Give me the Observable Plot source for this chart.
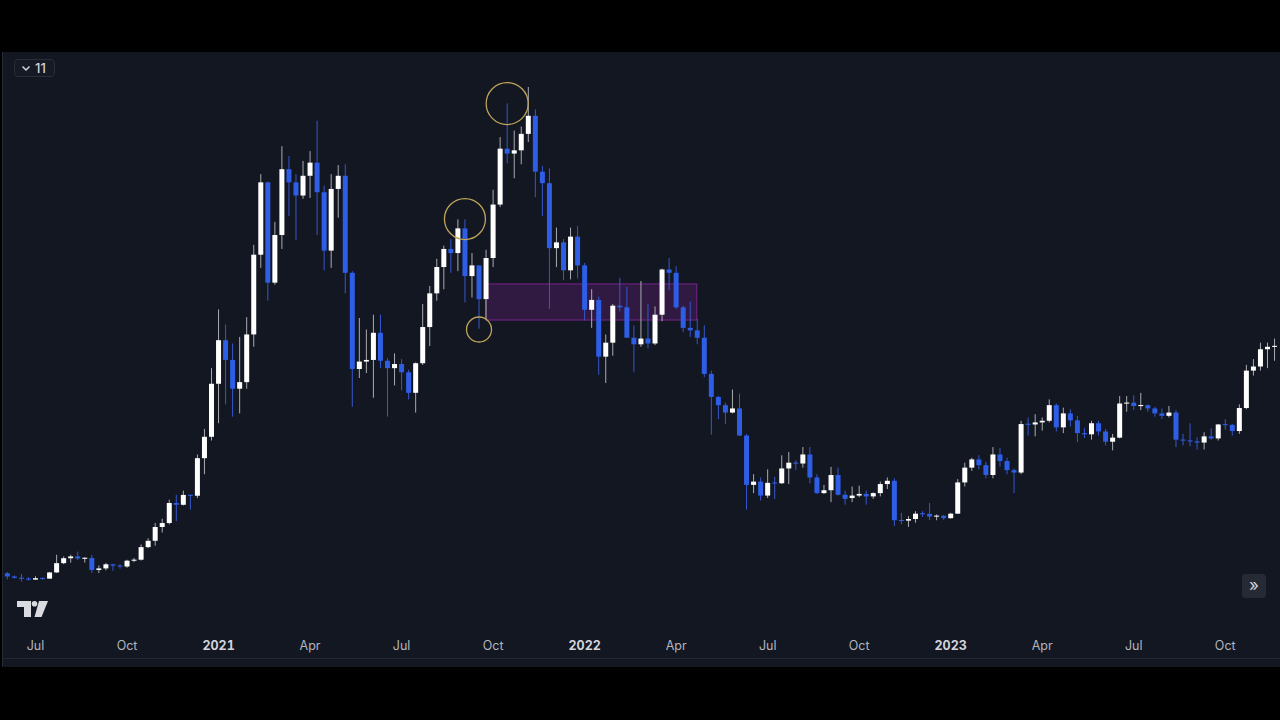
<!DOCTYPE html>
<html>
<head>
<meta charset="utf-8">
<script src="https://cdn.jsdelivr.net/npm/d3@7"></script>
<script src="https://cdn.jsdelivr.net/npm/@observablehq/plot@0.6"></script>
<style>
  html, body { margin:0; padding:0; background:#000; width:1280px; height:720px; overflow:hidden;
    font-family: Inter, "Open Sans", "DejaVu Sans", sans-serif; }
  #panel { position:absolute; left:2px; top:52px; width:1278px; height:615px; background:#131722; border-left:1px solid #262a35; box-sizing:border-box; }
  #sep { position:absolute; left:3px; top:658px; width:1277px; height:1px; background:#222631; }
  #chart { position:absolute; left:0; top:52px; }
  #btn11 { position:absolute; left:14px; top:59px; width:41px; height:18px; border:1px solid #2a2e39; border-radius:4px;
    background:#161a25; color:#d1d4dc; font-size:13px; line-height:18px; box-sizing:border-box; }
  #btn11 svg { position:absolute; left:6px; top:5px; }
  #btn11 span { position:absolute; left:20px; top:-1px; font-weight:500; }
  #logo { position:absolute; left:16px; top:600px; }
  #goend { position:absolute; left:1242px; top:574px; width:24px; height:24px; border-radius:4px; background:#262a35;
    color:#d1d4dc; font-size:17px; line-height:22px; text-align:center; }
</style>
</head>
<body>
<div id="panel"></div>
<div id="sep"></div>
<div id="chart"></div>
<div id="btn11"><svg width="10" height="7" viewBox="0 0 10 7"><path d="M1.5 1.5 L5 5 L8.5 1.5" stroke="#d1d4dc" stroke-width="1.5" fill="none"/></svg><span>11</span></div>
<svg id="logo" width="34" height="18" viewBox="0 0 34 18">
  <path d="M1 1 H15 V17 H8 V7 H1 Z" fill="#d9dbe0"/>
  <circle cx="18.5" cy="3.8" r="2.8" fill="#d9dbe0"/>
  <path d="M23 1 H32 L25.5 17 H18.5 Z" fill="#d9dbe0"/>
</svg>
<div id="goend">»</div>
<script>
// Weekly BTC candles, first candle week of 2020-06-08
const firstWeek = "2020-06-08";
const open = [9850,9460,9300,9200,9080,9250,9200,9950,11080,11680,11900,11650,11700,10250,10440,10940,10775,10670,11380,11500,
  13030,13800,15480,15960,18400,18180,19380,19280,23850,26450,32900,38200,35800,32300,33100,38900,48600,57400,45200,51000,
  59000,57400,55800,58200,59800,56200,49100,56600,58200,46400,34700,35600,35800,39100,35700,34800,35300,34300,31800,35400,
  39800,43900,47100,49300,48800,51800,46000,47300,43200,48200,54700,61500,60900,61300,63300,65500,58700,57300,49400,50100,
  46700,50800,47300,41900,43100,36200,37900,42400,42200,38500,37700,38400,37800,41300,46800,46400,42200,39700,39400,38500,
  34100,31300,30300,29400,29900,26600,20600,21000,19300,20850,20800,22600,23300,23200,24300,21500,19600,19950,21800,19400,
  19000,19300,19500,19200,19600,20700,21100,16300,16250,16450,17100,17080,16750,16850,16550,17100,20900,22700,23700,23000,
  21800,24300,23500,22400,22100,28000,27950,28200,28400,30300,27600,29300,28450,26900,26750,28100,27100,25850,26350,30500,
  30600,30200,30300,29900,29300,29000,29400,26100,26000,25900,25750,26500,26250,27950,27900,27150,29950,34500,35000,37100,37400];
const high = [9990,9590,9780,9370,9480,9310,9990,12100,11900,12100,12480,11800,12090,10800,11100,10990,10950,11490,11720,13350,
  14100,15960,16480,18800,19400,19900,19420,24300,27400,34800,41950,40100,37800,38600,41000,49800,58400,57500,52600,61800,
  60600,58400,60000,61200,64900,57000,58400,59500,59600,46600,40900,39500,41300,41300,36000,36600,35900,34600,35500,42600,
  44800,48100,49700,50500,52900,52900,48800,47300,49200,56500,62900,67000,63700,64200,69000,66300,59400,59100,51900,50500,
  51900,52100,47600,44400,43500,38900,42600,45800,44700,40000,45400,42600,42300,46900,48200,47200,42400,42900,40800,40000,
  34500,31400,30600,32200,31700,26800,21900,21500,22500,21600,24200,24600,23600,25200,25200,21900,20600,22800,22700,19900,
  20400,20500,19900,19700,21000,21500,21400,17200,16800,17400,17400,18400,17000,16950,17200,21300,23300,23900,24200,23400,
  25200,25100,23900,22600,28400,28800,29200,28800,31000,30500,30000,29800,29000,27500,28400,28400,27400,26800,31400,31400,
  31500,31800,30400,30100,29900,30200,29700,26800,28100,26400,27000,27500,28000,28600,28000,30400,35200,35900,37900,37900,38400];
const low = [9100,9200,8850,8950,9050,9050,9150,9900,10950,11150,11480,11150,9900,9880,10200,10150,10400,10530,11200,11400,
  12900,13200,14800,15800,16200,18100,17600,19000,21900,26000,28100,30400,28900,29300,32300,37400,47000,43000,44950,49300,
  53300,50400,55400,55500,51000,46700,47000,53100,43900,30100,33600,34200,31200,34800,28900,32700,32100,31000,29400,35200,
  37500,43000,44400,46400,46600,42800,43400,39600,40800,47100,54400,59700,57900,59600,62300,55600,53300,42000,47100,45500,
  45600,45700,40600,39700,34000,33000,36300,41700,39400,34300,37400,37200,37600,40500,44300,42000,39200,38600,37700,33700,
  26700,28600,28000,29300,26550,17600,19600,18700,19000,18900,20700,20700,22400,22700,20800,19500,19500,18500,19300,18200,
  18500,19100,18200,18900,19200,20100,15600,15800,15500,16000,16700,16300,16300,16350,16500,17100,20400,22300,22500,21400,
  21400,22800,21900,19600,21900,26600,26500,27200,28200,27100,26900,27700,25800,26300,26100,26600,25400,24800,26250,29500,
  29700,29700,29500,28900,28600,28800,25200,25400,25300,24900,24900,26100,26000,27300,26600,26800,29800,33900,34500,34800,35700];
const close = [9460,9300,9200,9080,9250,9200,9950,11080,11680,11900,11650,11700,10250,10440,10940,10775,10670,11380,11500,13030,
  13800,15480,15960,18400,18180,19380,19280,23850,26450,32900,38200,35800,32300,33100,38900,48600,57400,45200,51000,59000,
  57400,55800,58200,59800,56200,49100,56600,58200,46400,34700,35600,35800,39100,35700,34800,35300,34300,31800,35400,39800,
  43900,47100,49300,48800,51800,46000,47300,43200,48200,54700,61500,60900,61300,63300,65500,58700,57300,49400,50100,46700,
  50800,47300,41900,43100,36200,37900,42400,42200,38500,37700,38400,37800,41300,46800,46400,42200,39700,39400,38500,34100,
  31300,30300,29400,29900,26600,20600,21000,19300,20850,20800,22600,23300,23200,24300,21500,19600,19950,21800,19400,18900,
  19300,19500,19200,19600,20700,21100,16300,16250,16450,17100,17080,16750,16850,16550,17100,20900,22700,23700,23000,21800,
  24300,23500,22400,22100,28000,27950,28200,28400,30300,27600,29300,28450,26900,26750,28100,27100,25850,26350,30500,30600,
  30200,30300,29900,29300,29000,29400,26100,26000,25900,25750,26500,26250,27950,27900,27150,29950,34500,35000,37100,37400,37500];

// Axis labels
const monthTickDates = ["2020-07-06","2020-10-05","2021-04-05","2021-07-05","2021-10-04","2022-04-04","2022-07-04","2022-10-03","2023-04-03","2023-07-03","2023-10-02"];
const monthTickLabels = ["Jul","Oct","Apr","Jul","Oct","Apr","Jul","Oct","Apr","Jul","Oct"];
const yearTickDates = ["2021-01-04","2022-01-03","2023-01-02"];
const yearTickLabels = ["2021","2022","2023"];

// Drawings
const zoneStart = "2021-09-27", zoneEnd = "2022-04-25", zoneLow = 40650, zoneHigh = 45050;
const circleDates = ["2021-10-18","2021-09-06","2021-09-20"];
const circlePrices = [67050, 53000, 39560];
const circleRadii = [21, 20.5, 12.5];

// ---- build ----
const DAY = 864e5, WEEK = 7 * DAY;
const t0 = Date.parse(firstWeek);
const candles = open.map((o, i) => {
  const c = close[i];
  let hi = Math.max(o, c), lo = Math.min(o, c);
  if (hi - lo < 130) { const m = (hi + lo) / 2; hi = m + 65; lo = m - 65; }
  return { date: new Date(t0 + i * WEEK), open: o, high: high[i], low: low[i], close: c, up: c >= o, bHi: hi, bLo: lo };
});
const up = candles.filter(d => d.up), down = candles.filter(d => !d.up);

const jul6 = Date.parse("2020-07-06");
const xDomain = [new Date(jul6 - (35 / 7.04) * WEEK), new Date(jul6 + (1245 / 7.04) * WEEK)];

const monthMap = new Map(monthTickDates.map((d, i) => [Date.parse(d), monthTickLabels[i]]));
const yearMap = new Map(yearTickDates.map((d, i) => [Date.parse(d), yearTickLabels[i]]));
const zone = [{ x1: new Date(zoneStart), x2: new Date(zoneEnd), y1: zoneLow, y2: zoneHigh }];
const circles = circleDates.map((d, i) => ({ date: new Date(d), price: circlePrices[i], r: circleRadii[i] }));

const BLUE = "#2e5de6", BLUE_WICK = "#3657cf", WHITE = "#ffffff", WHITE_WICK = "#a9abb0";

const chart = Plot.plot({
  width: 1280, height: 615,
  marginLeft: 0, marginRight: 0, marginTop: 0, marginBottom: 30,
  style: { background: "transparent", overflow: "visible", fontFamily: "Inter, 'Open Sans', sans-serif", fontSize: "12.5px", color: "#b2b5be" },
  x: { type: "time", domain: xDomain, axis: null },
  y: { domain: [2098, 73257], axis: null },
  marks: [
    Plot.rect(zone, { x1: "x1", x2: "x2", y1: "y1", y2: "y2", fill: "#9c27b0", fillOpacity: 0.22, stroke: "#9c27b0", strokeOpacity: 0.7, strokeWidth: 1 }),
    Plot.ruleX(up, { x: "date", y1: "low", y2: "high", stroke: WHITE_WICK, strokeWidth: 1 }),
    Plot.ruleX(down, { x: "date", y1: "low", y2: "high", stroke: BLUE_WICK, strokeWidth: 1 }),
    Plot.ruleX(up, { x: "date", y1: "bLo", y2: "bHi", stroke: WHITE, strokeWidth: 5 }),
    Plot.ruleX(down, { x: "date", y1: "bLo", y2: "bHi", stroke: BLUE, strokeWidth: 5 }),
    ...circles.map(c => Plot.dot([c], { x: "date", y: "price", r: c.r, stroke: "#bfa45a", fill: "none", strokeWidth: 1.3 })),
    Plot.axisX({ ticks: monthTickDates.map(d => new Date(d)), tickFormat: d => monthMap.get(+d), tickSize: 0, tickPadding: 4, label: null, color: "#b2b5be" }),
    Plot.axisX({ ticks: yearTickDates.map(d => new Date(d)), tickFormat: d => yearMap.get(+d), tickSize: 0, tickPadding: 4, label: null, color: "#d1d4dc", fontWeight: "bold" })
  ]
});
document.getElementById("chart").appendChild(chart);
</script>
</body>
</html>
